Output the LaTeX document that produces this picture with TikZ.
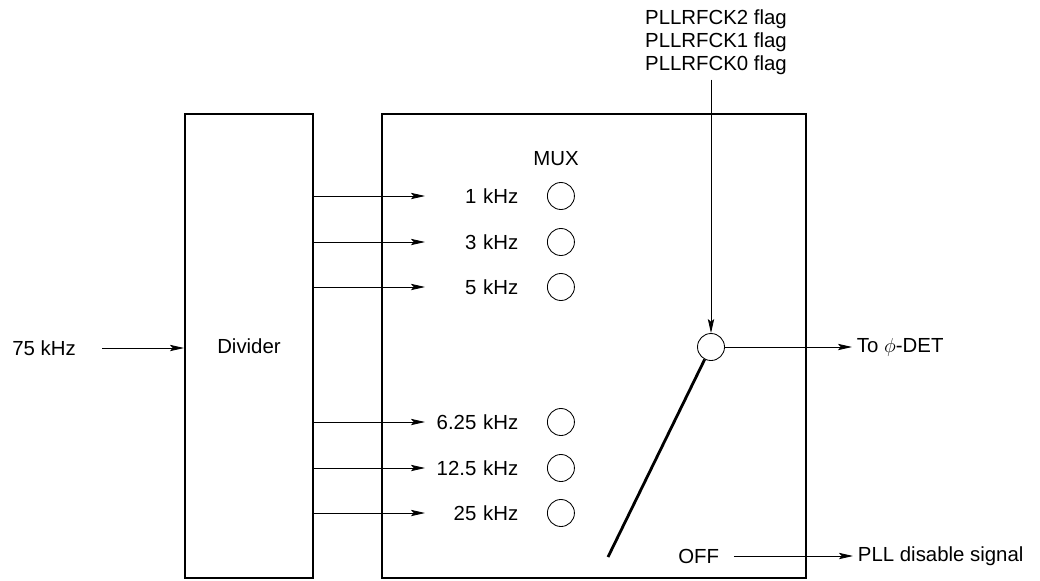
\documentclass[tikz,border=0pt]{standalone}
\usepackage{fontspec}
\setmainfont{Liberation Sans}
\usetikzlibrary{arrows.meta,positioning}

\begin{document}
\begin{tikzpicture}[
  x=0.025cm, y=-0.025cm,
  font=\fontsize{14.5}{16.5}\selectfont,
  box/.style={draw, line width=1.4pt, minimum height=11.6cm, inner sep=0pt},
  port/.style={draw, circle, minimum size=0.675cm, inner sep=0pt, line width=0.6pt},
  freq/.style={text width=2.325cm, align=right, inner sep=0pt, anchor=west},
  arr/.style={-{Stealth[length=10pt,width=4.5pt,inset=2pt]}, line width=0.6pt}
]
\useasboundingbox (0,0) rectangle (1040,580);
\node[box, minimum width=3.2cm] (div) at (249,346) {Divider};
\node[box, minimum width=10.6cm, right=1.675cm of div] (sel) {};
\node (in) at (44,348) {75 kHz};
\draw[arr, shorten <=15.5pt] (in.east) -- (in.east -| div.west);
% frequency inputs of the MUX
\node[freq] (f1) at (425,196) {1 kHz};
\node[freq] (f2) at (425,242) {3 kHz};
\node[freq] (f3) at (425,287) {5 kHz};
\node[freq] (f4) at (425,422) {6.25 kHz};
\node[freq] (f5) at (425,468) {12.5 kHz};
\node[freq] (f6) at (425,513) {25 kHz};
\node[port, right=0.71cm of f1] (c1) {};
\node[port, right=0.71cm of f2] (c2) {};
\node[port, right=0.71cm of f3] (c3) {};
\node[port, right=0.71cm of f4] (c4) {};
\node[port, right=0.71cm of f5] (c5) {};
\node[port, right=0.71cm of f6] (c6) {};
\node[above=0.28cm of c1, xshift=-0.12cm] (mux) {MUX};
\draw[arr] (div.east |- f1) -- (f1.west);
\draw[arr] (div.east |- f2) -- (f2.west);
\draw[arr] (div.east |- f3) -- (f3.west);
\draw[arr] (div.east |- f4) -- (f4.west);
\draw[arr] (div.east |- f5) -- (f5.west);
\draw[arr] (div.east |- f6) -- (f6.west);
% switch
\node[port] (sw) at (711,347) {};
\node[align=center] (flags) at (716,42) {PLLRFCK2 flag\\PLLRFCK1 flag\\PLLRFCK0 flag};
\draw[arr] (flags.south -| sw) -- (sw.north);
\node[anchor=west] (det) at (852,347) {To $\phi$-DET};
\draw[arr] (sw.east) -- (det.west);
\coordinate (lev) at (608,557);
\draw[line width=2pt] (sw.243) -- (lev);
\node[anchor=east] (off) at (724,556) {OFF};
\node[anchor=west] (pll) at (853,556) {PLL disable signal};
\draw[arr, shorten <=7pt] (off.east) -- (pll.west);
\end{tikzpicture}
\end{document}
